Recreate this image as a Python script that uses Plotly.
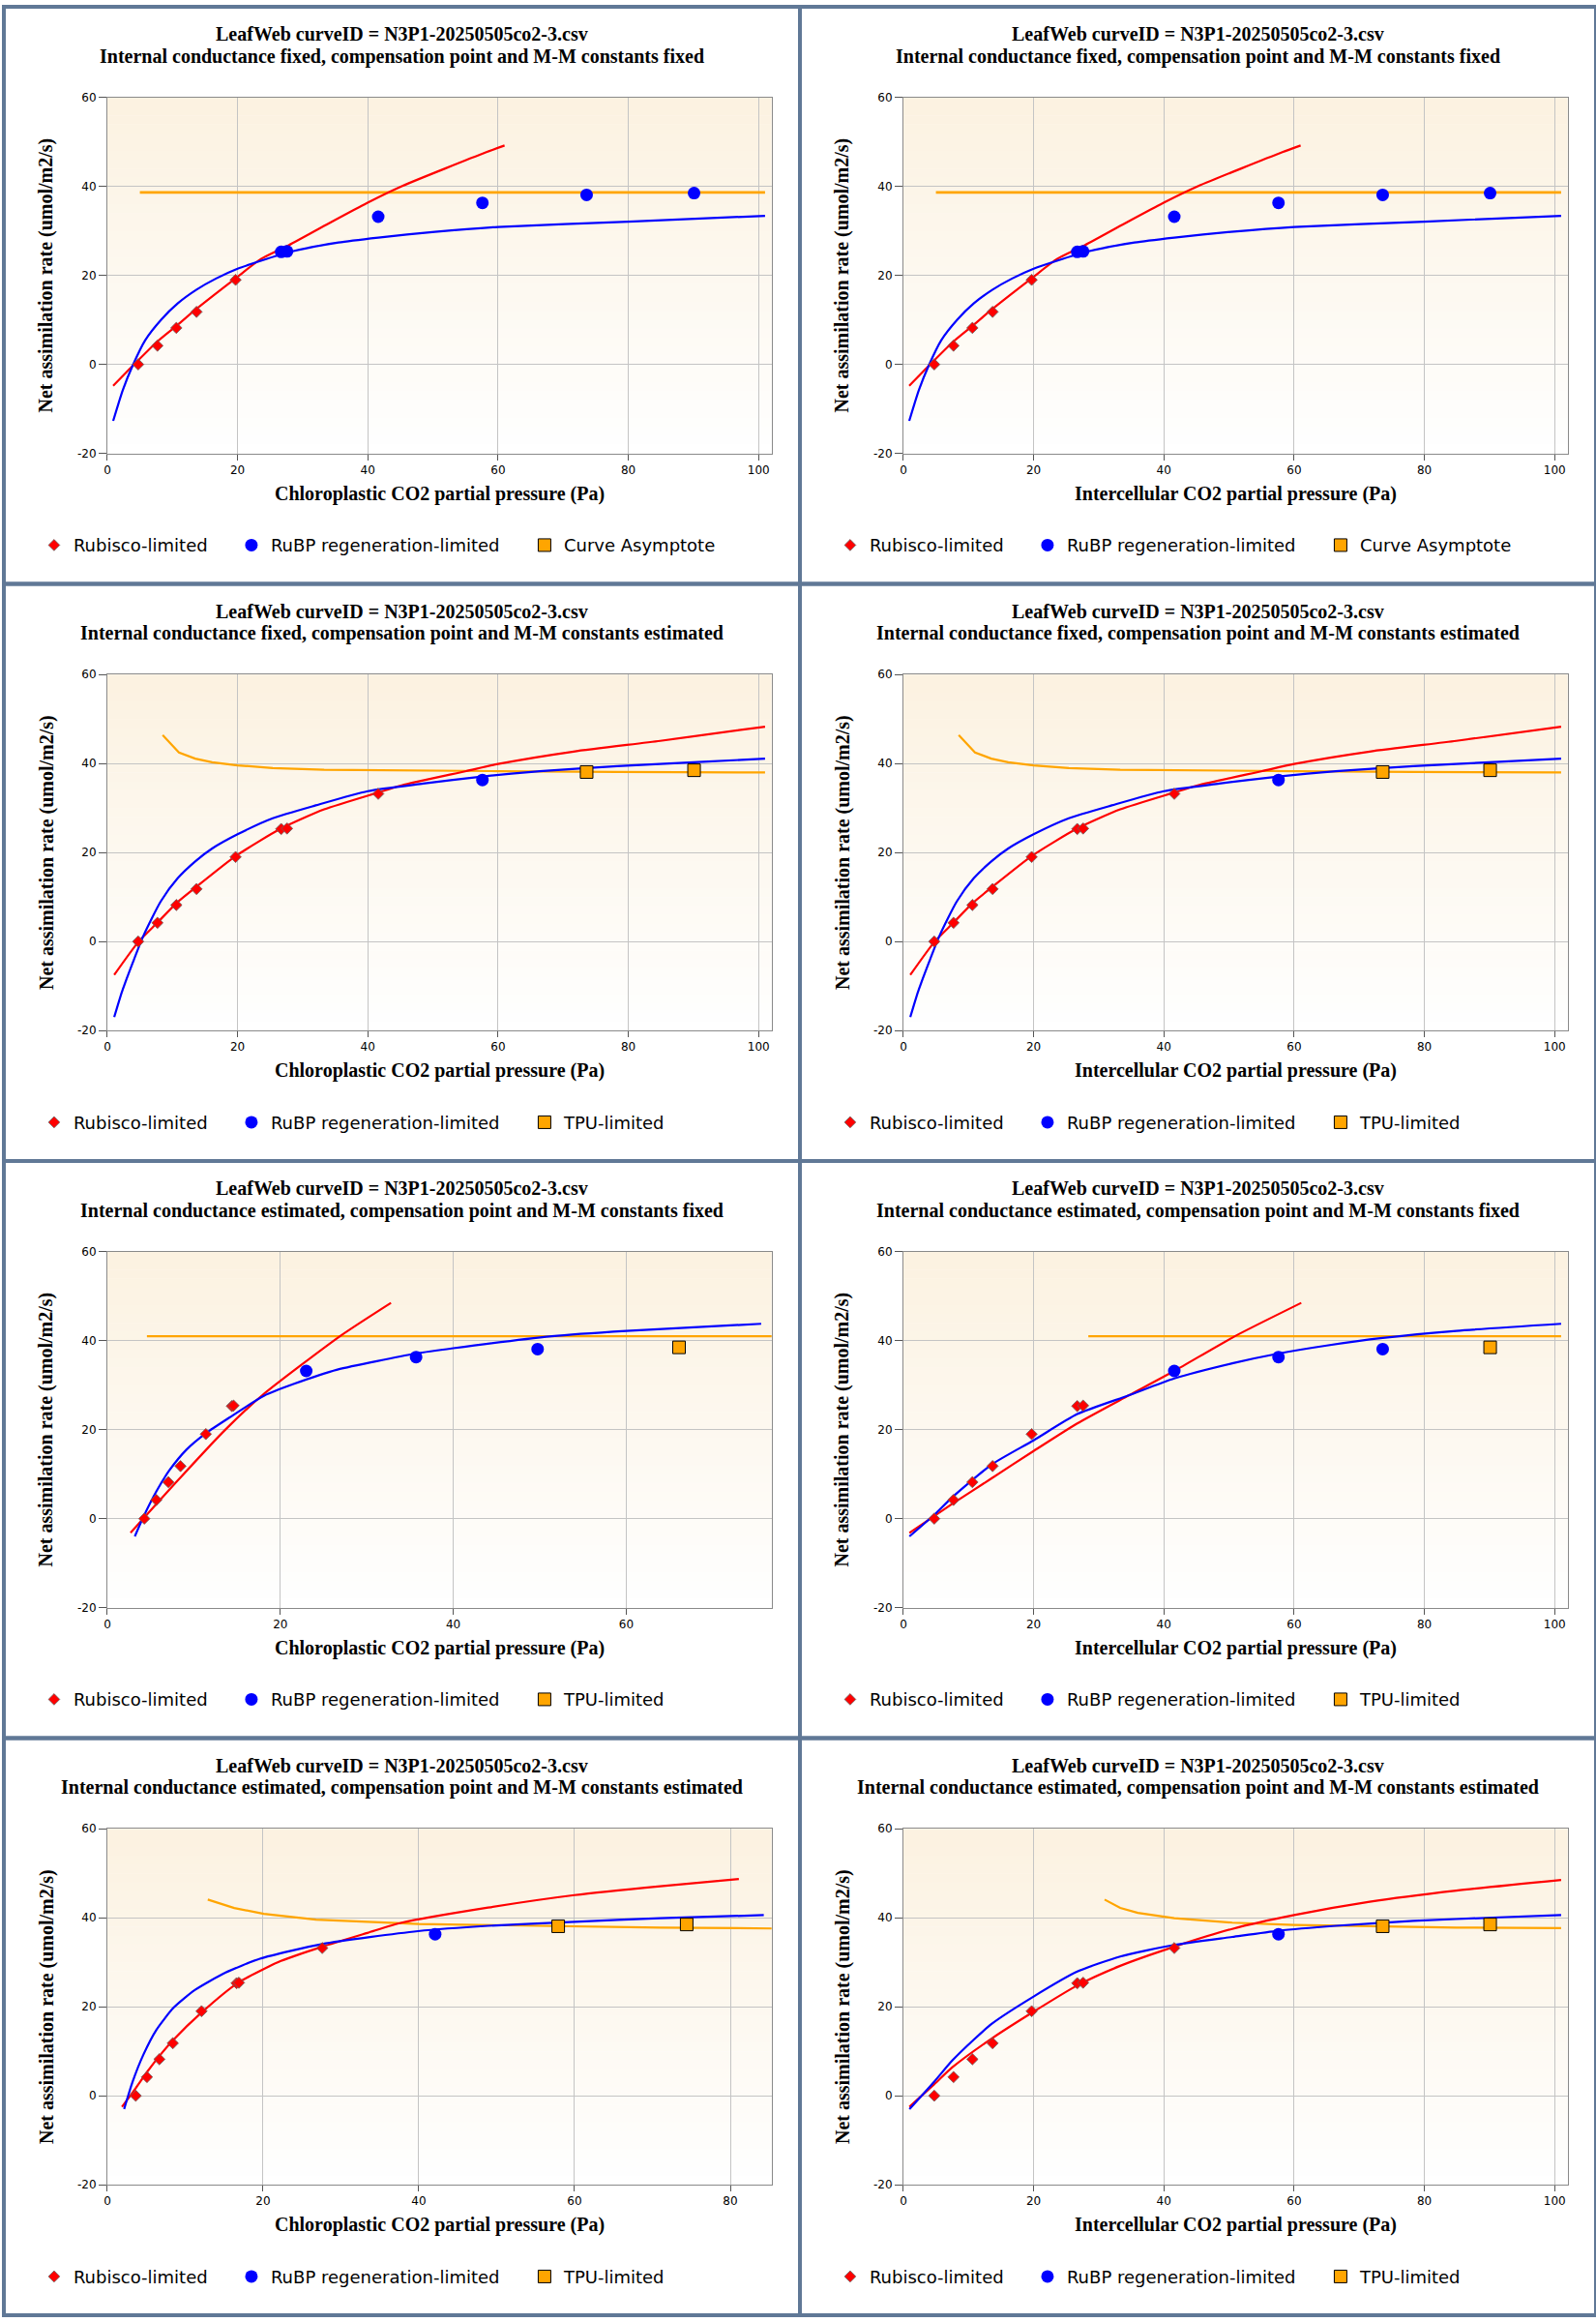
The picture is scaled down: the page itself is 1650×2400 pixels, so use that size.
import plotly.graph_objects as go

# Observed gas-exchange points (net assimilation vs CO2 partial pressure)
ci_obs = [4.74, 7.7, 10.6, 13.7, 19.7, 26.7, 27.6, 41.6, 57.6, 73.6, 90.1]
a_obs = [0.0, 4.2, 8.2, 11.8, 19.0, 25.3, 25.4, 33.2, 36.3, 38.1, 38.5]
cc_row3 = [4.28, 5.67, 7.06, 8.46, 11.39, 14.4, 14.6, 23.0, 35.7, 49.75, 66.1]
cc_row4 = [3.65, 5.09, 6.69, 8.41, 12.1, 16.6, 16.9, 27.6, 42.1, 57.9, 74.4]

# limitation of each point, R = Rubisco, J = RuBP regeneration, T = TPU / asymptote
lim_row1 = ["R", "R", "R", "R", "R", "J", "J", "J", "J", "J", "J"]
lim_row2 = ["R", "R", "R", "R", "R", "R", "R", "R", "J", "T", "T"]
lim_row3 = ["R", "R", "R", "R", "R", "R", "R", "J", "J", "J", "T"]
lim_row4 = ["R", "R", "R", "R", "R", "R", "R", "R", "J", "T", "T"]

# Fitted curves
r1_rub_x = [0.9, 3.85, 7.8, 10.8, 13.7, 20, 23.6, 27.6, 33.5, 39.9, 45.3, 58.2, 61]
r1_rub_y = [-4.8, -0.4, 5.3, 8.9, 12.5, 19.7, 23.7, 26.6, 31.3, 36.3, 40.1, 47.7, 49.2]
r1_rubp_x = [0.9, 2.37, 3.85, 5.8, 8.3, 10.8, 13.7, 16.7, 20, 23.6, 28.1, 35.5, 41.6, 50.3, 60, 80, 101]
r1_rubp_y = [-12.7, -5.8, -0.4, 5.4, 10.1, 13.7, 16.8, 19.3, 21.5, 23.3, 25.3, 27.4, 28.5, 29.8, 30.9, 32.1, 33.4]
r1_tpu_x = [5.0, 101]
r1_tpu_y = [38.66, 38.66]

r2_rub_x = [1.06, 4.76, 7.67, 10.6, 13.6, 19.7, 26.7, 33.3, 41.6, 45.2, 55.1, 60, 71.6, 84.9, 101]
r2_rub_y = [-7.5, -0.1, 4.2, 8.6, 12.2, 19.2, 25.4, 29.7, 33.5, 35.1, 38.3, 39.9, 42.7, 45.1, 48.3]
r2_rubp_x = [1.06, 2.25, 3.9, 5.55, 8.2, 10.8, 13.5, 16.1, 20, 25.4, 32, 40, 48.5, 57.6, 66.4, 78.3, 91.5, 101]
r2_rubp_y = [-17.0, -11.3, -4.8, 1.3, 9.0, 14.2, 18.0, 20.9, 24.1, 27.7, 30.6, 33.8, 35.5, 37.1, 38.3, 39.4, 40.4, 41.1]
r2_tpu_x = [8.5, 11.0, 13.5, 16.1, 20, 25.4, 33.3, 45.2, 60, 78.3, 101]
r2_tpu_y = [46.4, 42.5, 41.1, 40.3, 39.6, 39.0, 38.6, 38.4, 38.3, 38.1, 38.0]

r3l_rub_x = [2.69, 8.16, 13.6, 17.9, 26.9, 32.8]
r3l_rub_y = [-3.2, 8.6, 19.9, 27.7, 41.0, 48.5]
r3l_rubp_x = [3.18, 4.18, 5.67, 7.16, 9.15, 11.4, 14.1, 18.1, 21.6, 26.6, 35.7, 40, 51.4, 60, 75.6]
r3l_rubp_y = [-4.0, 0.4, 6.1, 10.8, 15.5, 19.2, 22.7, 27.6, 30.3, 33.5, 37.1, 38.3, 41.0, 42.2, 43.8]
r3l_tpu_x = [4.58, 77]
r3l_tpu_y = [41.0, 41.0]

r3r_rub_x = [0.93, 7.5, 13.6, 20, 26.7, 34.6, 41.6, 50.9, 61.1]
r3r_rub_y = [-3.2, 3.3, 9.1, 15.2, 21.4, 27.7, 33.2, 41.0, 48.5]
r3r_rubp_x = [0.93, 4.76, 7.5, 13.6, 20, 26.7, 34.6, 41.6, 50.5, 57.6, 65, 73.6, 84.9, 101]
r3r_rubp_y = [-4.0, 0.9, 4.8, 12.2, 17.6, 23.5, 27.7, 31.5, 34.9, 37.1, 38.9, 40.6, 42.2, 43.8]
r3r_tpu_x = [28.4, 101]
r3r_tpu_y = [41.0, 41.0]

r4l_rub_x = [1.88, 3.65, 5.09, 6.86, 8.5, 12.1, 16.8, 22.3, 27.6, 33.4, 37.8, 48.9, 60, 71, 81.1]
r4l_rub_y = [-2.5, 1.7, 5.3, 9.3, 12.6, 18.7, 25.4, 30.3, 33.5, 36.6, 38.9, 42.3, 45.1, 47.1, 48.7]
r4l_rubp_x = [2.16, 3.26, 4.65, 6.3, 8.52, 11.28, 15.2, 19.6, 27.6, 39.9, 48.9, 60, 71, 84.3]
r4l_rubp_y = [-3.0, 3.2, 9.3, 14.8, 19.8, 23.8, 27.7, 30.8, 34.1, 37.0, 38.2, 39.1, 39.9, 40.6]
r4l_tpu_x = [12.9, 16.3, 20.1, 26.8, 40, 54.4, 71, 85.7]
r4l_tpu_y = [44.1, 42.2, 40.9, 39.6, 38.6, 38.2, 37.8, 37.6]

r4r_rub_x = [0.93, 4.76, 7.53, 13.6, 20, 26.7, 33.3, 41.6, 50.5, 60, 71.6, 84.9, 101]
r4r_rub_y = [-2.5, 2.6, 6.4, 12.9, 18.9, 24.8, 29.2, 33.5, 37.5, 40.6, 43.6, 46.1, 48.5]
r4r_rubp_x = [0.93, 4.76, 7.5, 10.8, 13.6, 20, 26.7, 33.3, 41.6, 50.5, 57.6, 66.4, 78.3, 91.5, 101]
r4r_rubp_y = [-3.0, 3.2, 7.9, 12.6, 16.2, 22.3, 27.9, 31.3, 33.9, 35.7, 37.1, 38.2, 39.3, 40.1, 40.6]
r4r_tpu_x = [30.9, 33.3, 36, 41.6, 50.5, 60, 71.6, 84.9, 101]
r4r_tpu_y = [44.1, 42.2, 41.1, 39.9, 38.9, 38.4, 38.1, 37.8, 37.7]

title_top = "LeafWeb curveID = N3P1-20250505co2-3.csv"
row_titles = [
    "Internal conductance fixed, compensation point and M-M constants fixed",
    "Internal conductance fixed, compensation point and M-M constants estimated",
    "Internal conductance estimated, compensation point and M-M constants fixed",
    "Internal conductance estimated, compensation point and M-M constants estimated",
]
x_titles = ["Chloroplastic CO2 partial pressure (Pa)", "Intercellular CO2 partial pressure (Pa)"]
y_title = "Net assimilation rate (umol/m2/s)"
third_names = ["Curve Asymptote", "TPU-limited", "TPU-limited", "TPU-limited"]
x_max = [102, 102, 102, 102, 76.8, 102, 85.3, 102]
x_ticks = [0, 20, 40, 60, 80, 100]
y_ticks = [-20, 0, 20, 40, 60]
y_ticklabels = ["-20", "0", "20", "40", "60"]

# panel list: (x of points, limitation, curves)
panels = [
    (ci_obs, lim_row1, (r1_rub_x, r1_rub_y), (r1_rubp_x, r1_rubp_y), (r1_tpu_x, r1_tpu_y)),
    (ci_obs, lim_row1, (r1_rub_x, r1_rub_y), (r1_rubp_x, r1_rubp_y), (r1_tpu_x, r1_tpu_y)),
    (ci_obs, lim_row2, (r2_rub_x, r2_rub_y), (r2_rubp_x, r2_rubp_y), (r2_tpu_x, r2_tpu_y)),
    (ci_obs, lim_row2, (r2_rub_x, r2_rub_y), (r2_rubp_x, r2_rubp_y), (r2_tpu_x, r2_tpu_y)),
    (cc_row3, lim_row3, (r3l_rub_x, r3l_rub_y), (r3l_rubp_x, r3l_rubp_y), (r3l_tpu_x, r3l_tpu_y)),
    (ci_obs, lim_row3, (r3r_rub_x, r3r_rub_y), (r3r_rubp_x, r3r_rubp_y), (r3r_tpu_x, r3r_tpu_y)),
    (cc_row4, lim_row4, (r4l_rub_x, r4l_rub_y), (r4l_rubp_x, r4l_rubp_y), (r4l_tpu_x, r4l_tpu_y)),
    (ci_obs, lim_row4, (r4r_rub_x, r4r_rub_y), (r4r_rubp_x, r4r_rubp_y), (r4r_tpu_x, r4r_tpu_y)),
]

W, H = 1650, 2400
PW, PH = 825, 600
L, R, T, B = 107.2, 795.6, 94.3, 464.3

RED, BLUE, ORANGE = "#ff0000", "#0000ff", "#ffa500"
BORDER = "#607896"
TICKFONT = dict(family="DejaVu Sans", size=12, color="black")
SERIF = "Liberation Serif"


def px(v):
    return v / W


def py(v):
    return 1 - v / H


fig = go.Figure()
layout = dict(width=W, height=H, margin=dict(l=0, r=0, t=0, b=0),
              paper_bgcolor="white", plot_bgcolor="rgba(0,0,0,0)", showlegend=True)
shapes, annotations = [], []

for k, (xs, lim, rub, rubp, tpu) in enumerate(panels, start=1):
    r, c = (k - 1) // 2, (k - 1) % 2
    ox, oy = c * PW, r * PH
    sfx = "" if k == 1 else str(k)
    xa, ya = "x" + sfx, "y" + sfx
    leg = "legend" + sfx

    layout["xaxis" + sfx] = dict(
        domain=[px(ox + L), px(ox + R)], anchor=ya, range=[0, x_max[k - 1]],
        tickvals=x_ticks, showgrid=True, gridcolor="#c4c4c4", gridwidth=1,
        zeroline=False, showline=True, linecolor="#8a8a8a", linewidth=1, mirror=True,
        ticks="outside", ticklen=6, tickcolor="#555", tickfont=TICKFONT)
    layout["yaxis" + sfx] = dict(
        domain=[py(oy + B), py(oy + T)], anchor=xa, range=[-20, 60],
        tickvals=y_ticks, ticktext=y_ticklabels, showgrid=True, gridcolor="#c4c4c4",
        gridwidth=1, zeroline=False, showline=True, linecolor="#8a8a8a", linewidth=1,
        mirror=True, ticks="outside", ticklen=8, tickcolor="#555", tickfont=TICKFONT)
    layout[leg] = dict(
        orientation="h", x=px(ox + 32), y=py(oy + 560), xanchor="left", yanchor="middle",
        bgcolor="rgba(0,0,0,0)", font=dict(family="DejaVu Sans", size=18, color="black"),
        traceorder="normal", itemclick=False)

    # soft vertical gradient background of the plot area
    n_bands = 40
    for i in range(n_bands):
        t = i / (n_bands - 1)
        col = "rgb(%d,%d,%d)" % (252 + 3 * t, 242 + 13 * t, 225 + 30 * t)
        shapes.append(dict(type="rect", xref=xa + " domain", yref=ya + " domain",
                           x0=0, x1=1, y0=1 - (i + 1.05) / n_bands, y1=1 - i / n_bands,
                           fillcolor=col, line=dict(width=0), layer="below"))

    # fitted curves
    fig.add_trace(go.Scatter(x=tpu[0], y=tpu[1], mode="lines", xaxis=xa, yaxis=ya,
                             line=dict(color=ORANGE, width=2.8 if r == 0 else 2.2),
                             showlegend=False, hoverinfo="skip"))
    fig.add_trace(go.Scatter(x=rub[0], y=rub[1], mode="lines", xaxis=xa, yaxis=ya,
                             line=dict(color=RED, width=2.2, shape="spline", smoothing=0.6),
                             showlegend=False, hoverinfo="skip"))
    fig.add_trace(go.Scatter(x=rubp[0], y=rubp[1], mode="lines", xaxis=xa, yaxis=ya,
                             line=dict(color=BLUE, width=2.2, shape="spline", smoothing=0.6),
                             showlegend=False, hoverinfo="skip"))

    # observed points by limitation
    groups = [
        ("R", "Rubisco-limited", 159, dict(symbol="diamond", size=9, color=RED,
                                           line=dict(color="#666", width=0.8))),
        ("J", "RuBP regeneration-limited", 258, dict(symbol="circle", size=13, color=BLUE,
                                                     line=dict(color=BLUE, width=0))),
        ("T", third_names[r], None, dict(symbol="square", size=13, color=ORANGE,
                                         line=dict(color="black", width=1))),
    ]
    for code, name, lw, marker in groups:
        gx = [x for x, l in zip(xs, lim) if l == code]
        gy = [y for y, l in zip(a_obs, lim) if l == code]
        if code == "T" and r == 0:
            gx, gy = [None], [None]
        fig.add_trace(go.Scatter(x=gx, y=gy, mode="markers", name=name, marker=marker,
                                 xaxis=xa, yaxis=ya, legend=leg, showlegend=True,
                                 legendwidth=lw))

    annotations += [
        dict(text="<b>%s</b>" % title_top, x=px(ox + 412.5), y=py(oy + 28.5),
             xref="paper", yref="paper", showarrow=False, xanchor="center", yanchor="middle",
             font=dict(family=SERIF, size=20, color="black")),
        dict(text="<b>%s</b>" % row_titles[r], x=px(ox + 412.5), y=py(oy + 51.5),
             xref="paper", yref="paper", showarrow=False, xanchor="center", yanchor="middle",
             font=dict(family=SERIF, size=20, color="black")),
        dict(text="<b>%s</b>" % x_titles[c], x=px(ox + (L + R) / 2), y=py(oy + 506),
             xref="paper", yref="paper", showarrow=False, xanchor="center", yanchor="middle",
             font=dict(family=SERIF, size=20, color="black")),
        dict(text="<b>%s</b>" % y_title, x=px(ox + 44), y=py(oy + (T + B) / 2), textangle=-90,
             xref="paper", yref="paper", showarrow=False, xanchor="center", yanchor="middle",
             font=dict(family=SERIF, size=20, color="black")),
    ]

    # panel frame
    shapes.append(dict(type="rect", xref="paper", yref="paper",
                       x0=px(ox), x1=px(ox + PW), y0=py(oy + PH), y1=py(oy),
                       line=dict(color=BORDER, width=4), layer="above"))

layout["shapes"] = shapes
layout["annotations"] = annotations
fig.update_layout(**layout)

# page without the default body margin, so the figure sits at the window corner
page_js = ("document.documentElement.style.margin = '0px';"
           "document.body.style.margin = '0px';"
           "document.body.style.padding = '0px';"
           "document.body.style.overflow = 'hidden';")
fig.write_html("out.html", config={"displayModeBar": False}, post_script=page_js)
